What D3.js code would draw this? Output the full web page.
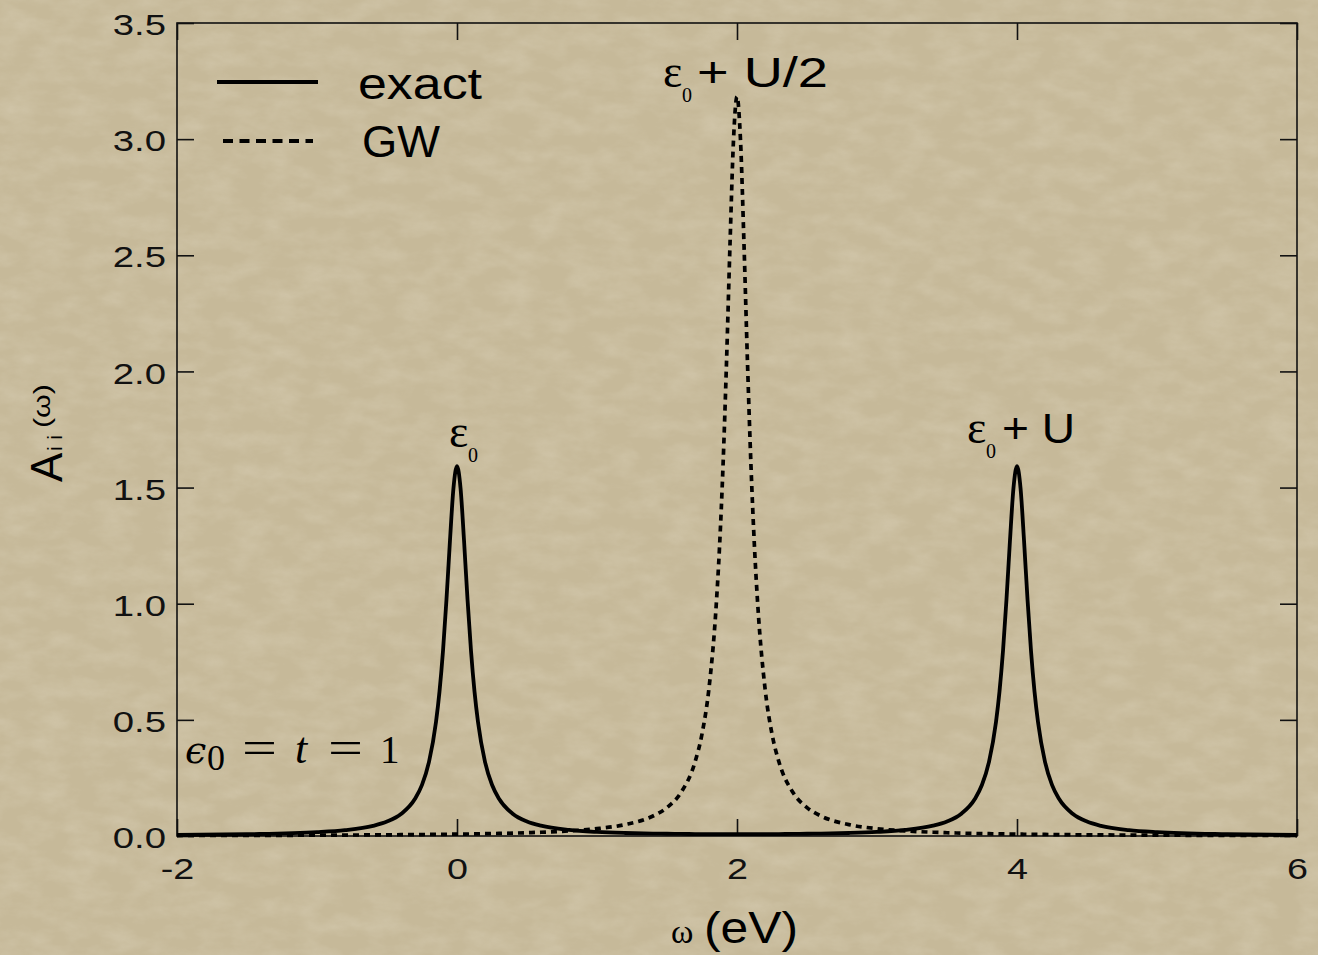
<!DOCTYPE html>
<html>
<head>
<meta charset="utf-8">
<script src="https://cdn.jsdelivr.net/npm/d3@7"></script>
<style>
  html, body { margin: 0; padding: 0; background: #c8bc9d; }
  svg { display: block; }
</style>
</head>
<body>
<svg id="chart" width="1318" height="955"></svg>
<script>
// Frequency grid (eV)
const omega = [
  -2, -1.5, -1, -0.8, -0.6, -0.5, -0.4, -0.3, -0.25, -0.2, -0.15, -0.125, -0.1, -0.075, -0.05, -0.025,
  0, 0.025, 0.05, 0.075, 0.1, 0.125, 0.15, 0.2, 0.25, 0.3, 0.4, 0.5, 0.6, 0.8, 1.0,
  1.2, 1.4, 1.5, 1.6, 1.7, 1.75, 1.8, 1.85, 1.875, 1.9, 1.925, 1.95, 1.975,
  2, 2.025, 2.05, 2.075, 2.1, 2.125, 2.15, 2.2, 2.25, 2.3, 2.4, 2.5, 2.6, 2.8,
  3.0, 3.2, 3.4, 3.5, 3.6, 3.7, 3.75, 3.8, 3.85, 3.875, 3.9, 3.925, 3.95, 3.975,
  4, 4.025, 4.05, 4.075, 4.1, 4.125, 4.15, 4.2, 4.25, 4.3, 4.4, 4.5, 4.6, 4.8, 5, 5.5, 6
];

// Exact spectral function A_ii(ω)
const exactA = [
  0.0044, 0.0076, 0.0164, 0.0252, 0.0437, 0.0620, 0.0944, 0.1601, 0.2204, 0.3192, 0.4906, 0.6221, 0.7968, 1.0196, 1.2742, 1.4990,
  1.5925, 1.4991, 1.2743, 1.0197, 0.7969, 0.6222, 0.4907, 0.3193, 0.2206, 0.1603, 0.0948, 0.0625, 0.0443, 0.0260, 0.0175,
  0.0130, 0.0104, 0.0096, 0.0090, 0.0085, 0.0084, 0.0082, 0.0081, 0.0081, 0.0080, 0.0080, 0.0080, 0.0080,
  0.0080, 0.0080, 0.0080, 0.0080, 0.0080, 0.0081, 0.0081, 0.0082, 0.0084, 0.0085, 0.0090, 0.0096, 0.0104, 0.0130,
  0.0175, 0.0260, 0.0443, 0.0625, 0.0948, 0.1603, 0.2206, 0.3193, 0.4907, 0.6222, 0.7969, 1.0197, 1.2743, 1.4991,
  1.5925, 1.4990, 1.2742, 1.0196, 0.7968, 0.6221, 0.4906, 0.3192, 0.2204, 0.1601, 0.0944, 0.0620, 0.0437, 0.0252, 0.0164, 0.0076, 0.0044
];

// GW spectral function A_ii(ω)
const gwA = [
  0.0020, 0.0026, 0.0035, 0.0041, 0.0047, 0.0051, 0.0055, 0.0060, 0.0063, 0.0066, 0.0069, 0.0070, 0.0072, 0.0074, 0.0076, 0.0077,
  0.0079, 0.0081, 0.0083, 0.0086, 0.0088, 0.0090, 0.0093, 0.0098, 0.0104, 0.0110, 0.0124, 0.0141, 0.0162, 0.0220, 0.0315,
  0.0490, 0.0860, 0.1224, 0.1872, 0.3183, 0.4390, 0.6366, 0.9794, 1.2422, 1.5915, 2.0372, 2.5465, 2.9959,
  3.1831, 2.9959, 2.5465, 2.0372, 1.5915, 1.2422, 0.9794, 0.6366, 0.4390, 0.3183, 0.1872, 0.1224, 0.0860, 0.0490,
  0.0315, 0.0220, 0.0162, 0.0141, 0.0124, 0.0110, 0.0104, 0.0098, 0.0093, 0.0090, 0.0088, 0.0086, 0.0083, 0.0081,
  0.0079, 0.0077, 0.0076, 0.0074, 0.0072, 0.0070, 0.0069, 0.0066, 0.0063, 0.0060, 0.0055, 0.0051, 0.0047, 0.0041, 0.0035, 0.0026, 0.0020
];

const xTickValues = [-2, 0, 2, 4, 6];
const xTickLabels = ["-2", "0", "2", "4", "6"];
const yTickValues = [0, 0.5, 1.0, 1.5, 2.0, 2.5, 3.0, 3.5];
const yTickLabels = ["0.0", "0.5", "1.0", "1.5", "2.0", "2.5", "3.0", "3.5"];

const seriesNames = ["exact", "GW"];

const W = 1318, H = 955;
const plot = { left: 177, right: 1297, top: 23, bottom: 836 };
const SANS = "'Liberation Sans', Arial, Helvetica, sans-serif";
const SERIF = "'Liberation Serif', 'Times New Roman', serif";
const MATH = "'DejaVu Serif', 'Liberation Serif', serif";

const svg = d3.select("#chart");

// Stretch glyphs horizontally by a factor (wide typeface look)
function widen(sel, factor) {
  sel.each(function () {
    const w = this.getComputedTextLength();
    d3.select(this).attr("textLength", w * factor).attr("lengthAdjust", "spacingAndGlyphs");
  });
}

// Paper-like background texture
const defs = svg.append("defs");
const paper = defs.append("filter").attr("id", "paper")
  .attr("x", 0).attr("y", 0).attr("width", "100%").attr("height", "100%");
paper.append("feTurbulence").attr("type", "fractalNoise")
  .attr("baseFrequency", "0.03 0.06").attr("numOctaves", 4).attr("seed", 3).attr("result", "noise");
paper.append("feColorMatrix").attr("in", "noise").attr("type", "matrix")
  .attr("values", "0 0 0 0 1  0 0 0 0 0.97  0 0 0 0 0.88  1.0 0 0 0 -0.35");

svg.append("rect").attr("width", W).attr("height", H).attr("fill", "#c6b999");
svg.append("rect").attr("width", W).attr("height", H).attr("filter", "url(#paper)").attr("opacity", 0.28);

const x = d3.scaleLinear().domain([-2, 6]).range([plot.left, plot.right]);
const y = d3.scaleLinear().domain([0, 3.5]).range([plot.bottom, plot.top]);

// Axes with inward ticks on all four sides
const axisStyle = g => {
  g.select(".domain").remove();
  g.selectAll(".tick line").attr("stroke", "#111").attr("stroke-width", 1.6);
  g.selectAll(".tick text").attr("fill", "#111").style("font-family", SANS).style("font-size", "29px");
};

const gx = svg.append("g").attr("transform", `translate(0,${plot.bottom})`)
  .call(d3.axisBottom(x).tickValues(xTickValues).tickFormat((d, i) => xTickLabels[i])
    .tickSizeInner(-17).tickSizeOuter(0).tickPadding(22))
  .call(axisStyle);
widen(gx.selectAll(".tick text"), 1.3);

svg.append("g").attr("transform", `translate(0,${plot.top})`)
  .call(d3.axisTop(x).tickValues(xTickValues).tickFormat("").tickSizeInner(-17).tickSizeOuter(0))
  .call(axisStyle);

const gy = svg.append("g").attr("transform", `translate(${plot.left},0)`)
  .call(d3.axisLeft(y).tickValues(yTickValues).tickFormat((d, i) => yTickLabels[i])
    .tickSizeInner(-17).tickSizeOuter(0).tickPadding(11))
  .call(axisStyle);
gy.selectAll(".tick text").attr("dy", "0.4em");
widen(gy.selectAll(".tick text"), 1.32);

svg.append("g").attr("transform", `translate(${plot.right},0)`)
  .call(d3.axisRight(y).tickValues(yTickValues).tickFormat("").tickSizeInner(-17).tickSizeOuter(0))
  .call(axisStyle);

// Frame
svg.append("rect")
  .attr("x", plot.left).attr("y", plot.top)
  .attr("width", plot.right - plot.left).attr("height", plot.bottom - plot.top)
  .attr("fill", "none").attr("stroke", "#111").attr("stroke-width", 1.6);

// Curves
const line = d3.line()
  .x((d, i) => x(omega[i]))
  .y(d => y(d))
  .curve(d3.curveMonotoneX);

svg.append("path").datum(gwA)
  .attr("d", line)
  .attr("fill", "none").attr("stroke", "#000")
  .attr("stroke-width", 3.7).attr("stroke-dasharray", "6,5");

svg.append("path").datum(exactA)
  .attr("d", line)
  .attr("fill", "none").attr("stroke", "#000")
  .attr("stroke-width", 3.8).attr("stroke-linejoin", "round");

// Legend
const legend = svg.append("g");
legend.append("line").attr("x1", 217).attr("x2", 318).attr("y1", 82).attr("y2", 82)
  .attr("stroke", "#000").attr("stroke-width", 4);
legend.append("line").attr("x1", 223).attr("x2", 313).attr("y1", 141).attr("y2", 141)
  .attr("stroke", "#000").attr("stroke-width", 4).attr("stroke-dasharray", "10,6.5");
legend.append("text").attr("x", 358).attr("y", 99).text(seriesNames[0])
  .attr("textLength", 124).attr("lengthAdjust", "spacingAndGlyphs")
  .style("font-family", SANS).style("font-size", "44px").attr("fill", "#000");
legend.append("text").attr("x", 362).attr("y", 157).text(seriesNames[1])
  .attr("textLength", 78).attr("lengthAdjust", "spacingAndGlyphs")
  .style("font-family", SANS).style("font-size", "44px").attr("fill", "#000");

// Peak labels: ε₀, ε₀ + U/2, ε₀ + U
function peakLabel(xEps, baseline, rest, restX, restLen) {
  const g = svg.append("g");
  g.append("text").attr("x", xEps).attr("y", baseline).text("ε")
    .style("font-family", SERIF).style("font-size", "46px").attr("fill", "#000");
  g.append("text").attr("x", xEps + 19).attr("y", baseline + 15).text("0")
    .style("font-family", SERIF).style("font-size", "20px").attr("fill", "#000");
  if (rest) {
    g.append("text").attr("x", restX).attr("y", baseline).text(rest)
      .attr("xml:space", "preserve")
      .attr("textLength", restLen).attr("lengthAdjust", "spacingAndGlyphs")
      .style("font-family", SANS).style("font-size", "42px").attr("fill", "#000");
  }
}
peakLabel(449, 447, null, 0, 0);
peakLabel(663, 87, "+ U/2", 697, 131);
peakLabel(967, 443, "+ U", 1002, 73);

// Parameter annotation ϵ₀ = t = 1
const ann = svg.append("g").attr("fill", "#000");
ann.append("text").attr("x", 185).attr("y", 763).text("ϵ")
  .style("font-family", MATH).style("font-size", "38px").style("font-style", "italic").style("font-weight", 300);
ann.append("text").attr("x", 207).attr("y", 770).text("0")
  .style("font-family", SERIF).style("font-size", "36px");
ann.append("text").attr("x", 242).attr("y", 763).text("=")
  .style("font-family", SERIF).style("font-size", "46px")
  .attr("textLength", 35).attr("lengthAdjust", "spacingAndGlyphs");
ann.append("text").attr("x", 295).attr("y", 763).text("t")
  .style("font-family", SERIF).style("font-size", "44px").style("font-style", "italic");
ann.append("text").attr("x", 328).attr("y", 763).text("=")
  .style("font-family", SERIF).style("font-size", "46px")
  .attr("textLength", 35).attr("lengthAdjust", "spacingAndGlyphs");
ann.append("text").attr("x", 380).attr("y", 763).text("1")
  .style("font-family", SERIF).style("font-size", "39px");

// Axis titles
svg.append("text").attr("x", 671).attr("y", 943).text("ω")
  .style("font-family", SERIF).style("font-size", "34px").attr("fill", "#000");
svg.append("text").attr("x", 704).attr("y", 943).text("(eV)")
  .attr("textLength", 94).attr("lengthAdjust", "spacingAndGlyphs")
  .style("font-family", SANS).style("font-size", "44px").attr("fill", "#000");

const yt = svg.append("g").attr("transform", "translate(62,482) rotate(-90)")
  .attr("fill", "#000").style("font-family", SANS);
yt.append("text").attr("x", 0).attr("y", 0).text("A").style("font-size", "44px");
yt.append("text").attr("x", 31).attr("y", 0).text("ii").style("font-size", "21px")
  .attr("textLength", 16).attr("lengthAdjust", "spacing");
yt.append("text").attr("x", 54).attr("y", -12).text("(ω)").style("font-size", "24px")
  .attr("textLength", 44).attr("lengthAdjust", "spacingAndGlyphs");
</script>
</body>
</html>
